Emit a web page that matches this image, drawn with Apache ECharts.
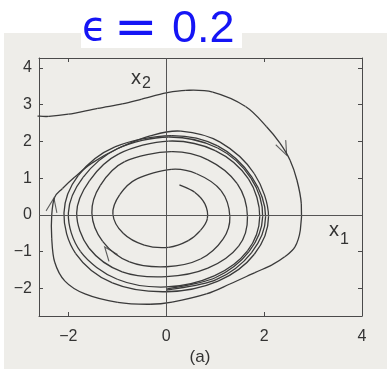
<!DOCTYPE html>
<html>
<head>
<meta charset="utf-8">
<script src="https://cdn.jsdelivr.net/npm/echarts@6/dist/echarts.min.js"></script>
<style>
  html, body { margin: 0; padding: 0; background: #ffffff; }
  #chart { width: 387px; height: 369px; }
</style>
</head>
<body>
<div id="chart"></div>
<script>
// Van der Pol phase plane, epsilon = 0.2
const xTicks = [-2, 0, 2, 4];
const yTicks = [-2, -1, 0, 1, 2, 3, 4];

// trajectory starting near the origin, winding outward (x1, x2)
const innerOrbit = [
  [0.27, 0.82], [0.58, 0.62], [0.79, 0.30], [0.84, -0.10], [0.70, -0.42], [0.45, -0.70],
  [0.05, -0.88], [-0.45, -0.82], [-0.88, -0.50], [-1.09, 0.02], [-0.95, 0.55], [-0.60, 0.98],
  [0.10, 1.24], [0.62, 1.12], [1.12, 0.66], [1.30, -0.05], [1.16, -0.66], [0.70, -1.20],
  [0.00, -1.41], [-0.75, -1.28], [-1.30, -0.72], [-1.52, 0.05], [-1.35, 0.80], [-0.85, 1.45],
  [0.10, 1.72], [0.85, 1.50], [1.45, 0.85], [1.66, -0.05], [1.48, -0.85], [0.85, -1.45],
  [0.00, -1.68], [-0.90, -1.55], [-1.58, -0.90], [-1.83, 0.05], [-1.57, 0.93], [-0.97, 1.66],
  [0.05, 2.01], [1.00, 1.75], [1.68, 0.98], [1.91, -0.05], [1.66, -0.98], [0.98, -1.66],
  [0.00, -1.96], [-1.00, -1.75], [-1.75, -1.00], [-2.00, 0.05], [-1.70, 1.02], [-1.00, 1.80],
  [0.05, 2.12], [1.05, 1.82], [1.73, 1.00], [1.97, -0.05], [1.69, -1.00], [1.00, -1.71],
  [0.00, -2.02]
];

// trajectory entering from the upper left, winding inward (x1, x2)
const outerOrbit = [
  [-2.63, 2.69], [-2.40, 2.68], [-2.00, 2.74], [-1.40, 2.90], [-0.90, 3.02], [-0.50, 3.15],
  [0.00, 3.32], [0.40, 3.39], [0.95, 3.34], [1.62, 2.95], [2.05, 2.40], [2.32, 1.96],
  [2.53, 1.49], [2.67, 0.95], [2.76, 0.30], [2.74, -0.41], [2.63, -0.87], [2.42, -1.14],
  [2.16, -1.36], [1.81, -1.57], [1.30, -1.88], [0.82, -2.15], [0.12, -2.37], [-0.33, -2.43],
  [-0.99, -2.38], [-1.66, -2.15], [-2.07, -1.80], [-2.28, -1.28], [-2.34, -0.63], [-2.34, 0.00],
  [-2.28, 0.48], [-2.12, 0.72], [-1.87, 1.03], [-1.52, 1.41], [-1.00, 1.80], [-0.33, 2.15],
  [0.30, 2.28], [1.10, 1.98], [1.80, 1.12], [2.09, -0.05], [1.80, -1.07], [1.06, -1.80],
  [0.00, -2.09], [-1.10, -1.85], [-1.85, -1.05], [-2.09, 0.05], [-1.80, 1.07], [-1.05, 1.85],
  [0.10, 2.16], [1.05, 1.88], [1.75, 1.03], [2.03, -0.05], [1.74, -1.03], [1.02, -1.76],
  [0.00, -2.05]
];

// direction arrowheads on the trajectories: [x1, x2, rotation in degrees]
const arrowMarks = [
  [2.40, 1.80, -155],
  [-2.32, 0.27, -10],
  [-1.17, -1.02, 38]
];

const ink = '#3a3a3a';
const frame = '#4a4a4a';
const labelFont = 'Liberation Sans, Arial, sans-serif';

const chart = echarts.init(document.getElementById('chart'), null, { renderer: 'canvas' });

function xAxisDef(pos, showLabels) {
  return {
    type: 'value', position: pos, min: -2.6, max: 4,
    axisLine: { show: true, onZero: false, lineStyle: { color: frame, width: 1 } },
    axisTick: { show: true, inside: true, length: 4, customValues: xTicks, lineStyle: { color: frame } },
    axisLabel: { show: showLabels, customValues: xTicks, margin: 13, color: '#333',
      fontFamily: labelFont, fontSize: 16,
      formatter: v => (v < 0 ? '\u2212' + Math.abs(v) : String(v)) },
    splitLine: { show: false }
  };
}
function yAxisDef(pos, showLabels) {
  return {
    type: 'value', position: pos, min: -2.75, max: 4.27,
    axisLine: { show: true, onZero: false, lineStyle: { color: frame, width: 1 } },
    axisTick: { show: true, inside: true, length: 4, customValues: yTicks, lineStyle: { color: frame } },
    axisLabel: { show: showLabels, customValues: yTicks, margin: 7, color: '#333',
      fontFamily: labelFont, fontSize: 16,
      formatter: v => (v < 0 ? '\u2212' + Math.abs(v) : String(v)) },
    splitLine: { show: false }
  };
}

// Each item draws the cubic segment from its point to the next one
// (Catmull-Rom control points, positioned through the axes).
function orbitRenderer(points) {
  return function (params, api) {
    const i = params.dataIndex;
    const n = points.length;
    if (i >= n - 1) return null;
    const p0 = api.coord(points[Math.max(i - 1, 0)]);
    const p1 = api.coord(points[i]);
    const p2 = api.coord(points[i + 1]);
    const p3 = api.coord(points[Math.min(i + 2, n - 1)]);
    return {
      type: 'bezierCurve',
      shape: {
        x1: p1[0], y1: p1[1], x2: p2[0], y2: p2[1],
        cpx1: p1[0] + (p2[0] - p0[0]) / 6, cpy1: p1[1] + (p2[1] - p0[1]) / 6,
        cpx2: p2[0] - (p3[0] - p1[0]) / 6, cpy2: p2[1] - (p3[1] - p1[1]) / 6
      },
      style: { stroke: ink, lineWidth: 1.3, fill: null }
    };
  };
}

chart.setOption({
  animation: false,
  backgroundColor: '#ffffff',
  grid: { left: 39, top: 58, width: 323, height: 258, show: false },
  xAxis: [xAxisDef('bottom', true), xAxisDef('top', false)],
  yAxis: [yAxisDef('left', true), yAxisDef('right', false)],
  graphic: [
    { type: 'rect', z: -10, silent: true, shape: { x: 4, y: 33, width: 383, height: 336 },
      style: { fill: '#eeede9' } },
    { type: 'rect', z: -9, silent: true, shape: { x: 81, y: 30, width: 161, height: 18 },
      style: { fill: '#ffffff' } },
    { type: 'text', z: 10, silent: true, style: { text: '\u03f5', x: 82, y: 30,
      font: '40px "DejaVu Sans", sans-serif', fill: '#1515f5', textVerticalAlign: 'middle' } },
    { type: 'text', z: 10, silent: true, style: { text: '=', x: 114, y: 30,
      font: '52px "DejaVu Sans", sans-serif', fill: '#1515f5', textVerticalAlign: 'middle' } },
    { type: 'text', z: 10, silent: true, style: { text: '0.2', x: 172, y: 30,
      font: '45px "Liberation Sans", Arial, sans-serif', fill: '#1515f5', textVerticalAlign: 'middle' } },
    { type: 'text', z: 10, silent: true, style: { text: 'x', x: 131, y: 78,
      font: '20px "Liberation Sans", Arial, sans-serif', fill: '#333', textVerticalAlign: 'middle' } },
    { type: 'text', z: 10, silent: true, style: { text: '2', x: 142, y: 84,
      font: '16px "Liberation Sans", Arial, sans-serif', fill: '#333', textVerticalAlign: 'middle' } },
    { type: 'text', z: 10, silent: true, style: { text: 'x', x: 329, y: 230,
      font: '20px "Liberation Sans", Arial, sans-serif', fill: '#333', textVerticalAlign: 'middle' } },
    { type: 'text', z: 10, silent: true, style: { text: '1', x: 340, y: 240,
      font: '16px "Liberation Sans", Arial, sans-serif', fill: '#333', textVerticalAlign: 'middle' } },
    { type: 'text', z: 10, silent: true, style: { text: '(a)', x: 200, y: 357,
      font: '17px "Liberation Sans", Arial, sans-serif', fill: '#333',
      textAlign: 'center', textVerticalAlign: 'middle' } }
  ],
  series: [
    {
      type: 'custom', name: 'inner', data: innerOrbit, encode: { x: 0, y: 1 },
      renderItem: orbitRenderer(innerOrbit), z: 3,
      markLine: {
        silent: true, symbol: 'none', animation: false,
        label: { show: false },
        lineStyle: { color: '#555', width: 1, type: 'solid' },
        data: [{ xAxis: 0 }, { yAxis: 0 }]
      }
    },
    {
      type: 'custom', name: 'outer', data: outerOrbit, encode: { x: 0, y: 1 },
      renderItem: orbitRenderer(outerOrbit), z: 3
    },
    {
      type: 'scatter', name: 'arrows', z: 4,
      symbol: 'path://M0,14 L6,0 L12,14',
      symbolSize: [11, 14],
      itemStyle: { color: 'none', borderColor: ink, borderWidth: 1.2 },
      data: arrowMarks.map(a => ({ value: [a[0], a[1]], symbolRotate: a[2] }))
    }
  ]
});
</script>
</body>
</html>
